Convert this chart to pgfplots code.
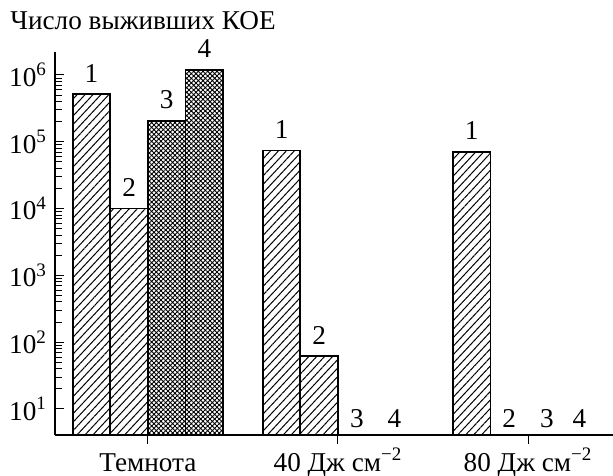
\documentclass[border=0pt]{standalone}
\usepackage{pgfplots}
\pgfplotsset{compat=1.18}
\usepackage{fontspec}
\setmainfont{Liberation Serif}
\usetikzlibrary{patterns.meta}
\newcommand{\fs}{\fontsize{13.6}{15}\selectfont}
\begin{document}
\begin{tikzpicture}
\useasboundingbox (-27.5pt,-20pt) rectangle (279pt,217.5pt);
\begin{axis}[
  scale only axis,
  width=279pt, height=191.5pt,
  ymode=log, log origin=infty,
  xmin=-0.489, xmax=2.447,
  ymin=4.08, ymax=2.21e6,
  axis x line=bottom, axis y line=left,
  axis line style={-, line width=0.7pt},
  ybar=0pt, bar width=0.198,
  xtick={0,1,2},
  xticklabels={Темнота, 40 Дж см\textsuperscript{−2}, 80 Дж см\textsuperscript{−2}},
  ytick={10,100,1000,10000,100000,1000000},
  yticklabels={10\textsuperscript{1},10\textsuperscript{2},10\textsuperscript{3},10\textsuperscript{4},10\textsuperscript{5},10\textsuperscript{6}},
  xtick align=outside, ytick align=inside,
  major tick length=4.3pt, minor tick length=3.3pt,
  every tick/.style={black, line width=0.5pt},
  tick label style={font=\fs},
  xticklabel style={anchor=base, yshift=-13.8pt},
  yticklabel style={xshift=-0.5pt},
  nodes near coords style={font=\fs, anchor=south, inner sep=0pt, yshift=5.5pt},
  clip=false,
]
\addplot[draw=black, line width=0.9pt, pattern={Lines[angle=47,distance=2.9pt,line width=0.5pt]}, nodes near coords={1}]
  coordinates {(0,5.2e5) (1,7.4e4) (2,7.1e4)};
\addplot[draw=black, line width=0.9pt, pattern={Lines[angle=47,distance=2.9pt,line width=0.5pt]}, nodes near coords={2}]
  coordinates {(0,1e4) (1,62)};
\addplot[draw=black, line width=0.9pt, pattern={Hatch[angle=45,distance=1.65pt,line width=0.45pt]}, nodes near coords={3}]
  coordinates {(0,2.05e5)};
\addplot[draw=black, line width=0.9pt, pattern={Hatch[angle=45,distance=1.65pt,line width=0.45pt]}, nodes near coords={4}]
  coordinates {(0,1.2e6)};
\node[font=\fs, anchor=base, inner sep=0pt] at (axis cs:1.099,5.2) {3};
\node[font=\fs, anchor=base, inner sep=0pt] at (axis cs:1.297,5.2) {4};
\node[font=\fs, anchor=base, inner sep=0pt] at (axis cs:1.901,5.2) {2};
\node[font=\fs, anchor=base, inner sep=0pt] at (axis cs:2.099,5.2) {3};
\node[font=\fs, anchor=base, inner sep=0pt] at (axis cs:2.270,5.2) {4};
\end{axis}
\node[font=\fs, anchor=base west, inner sep=0pt] at (-22.5pt,202.5pt) {Число выживших КОЕ};
\end{tikzpicture}
\end{document}
